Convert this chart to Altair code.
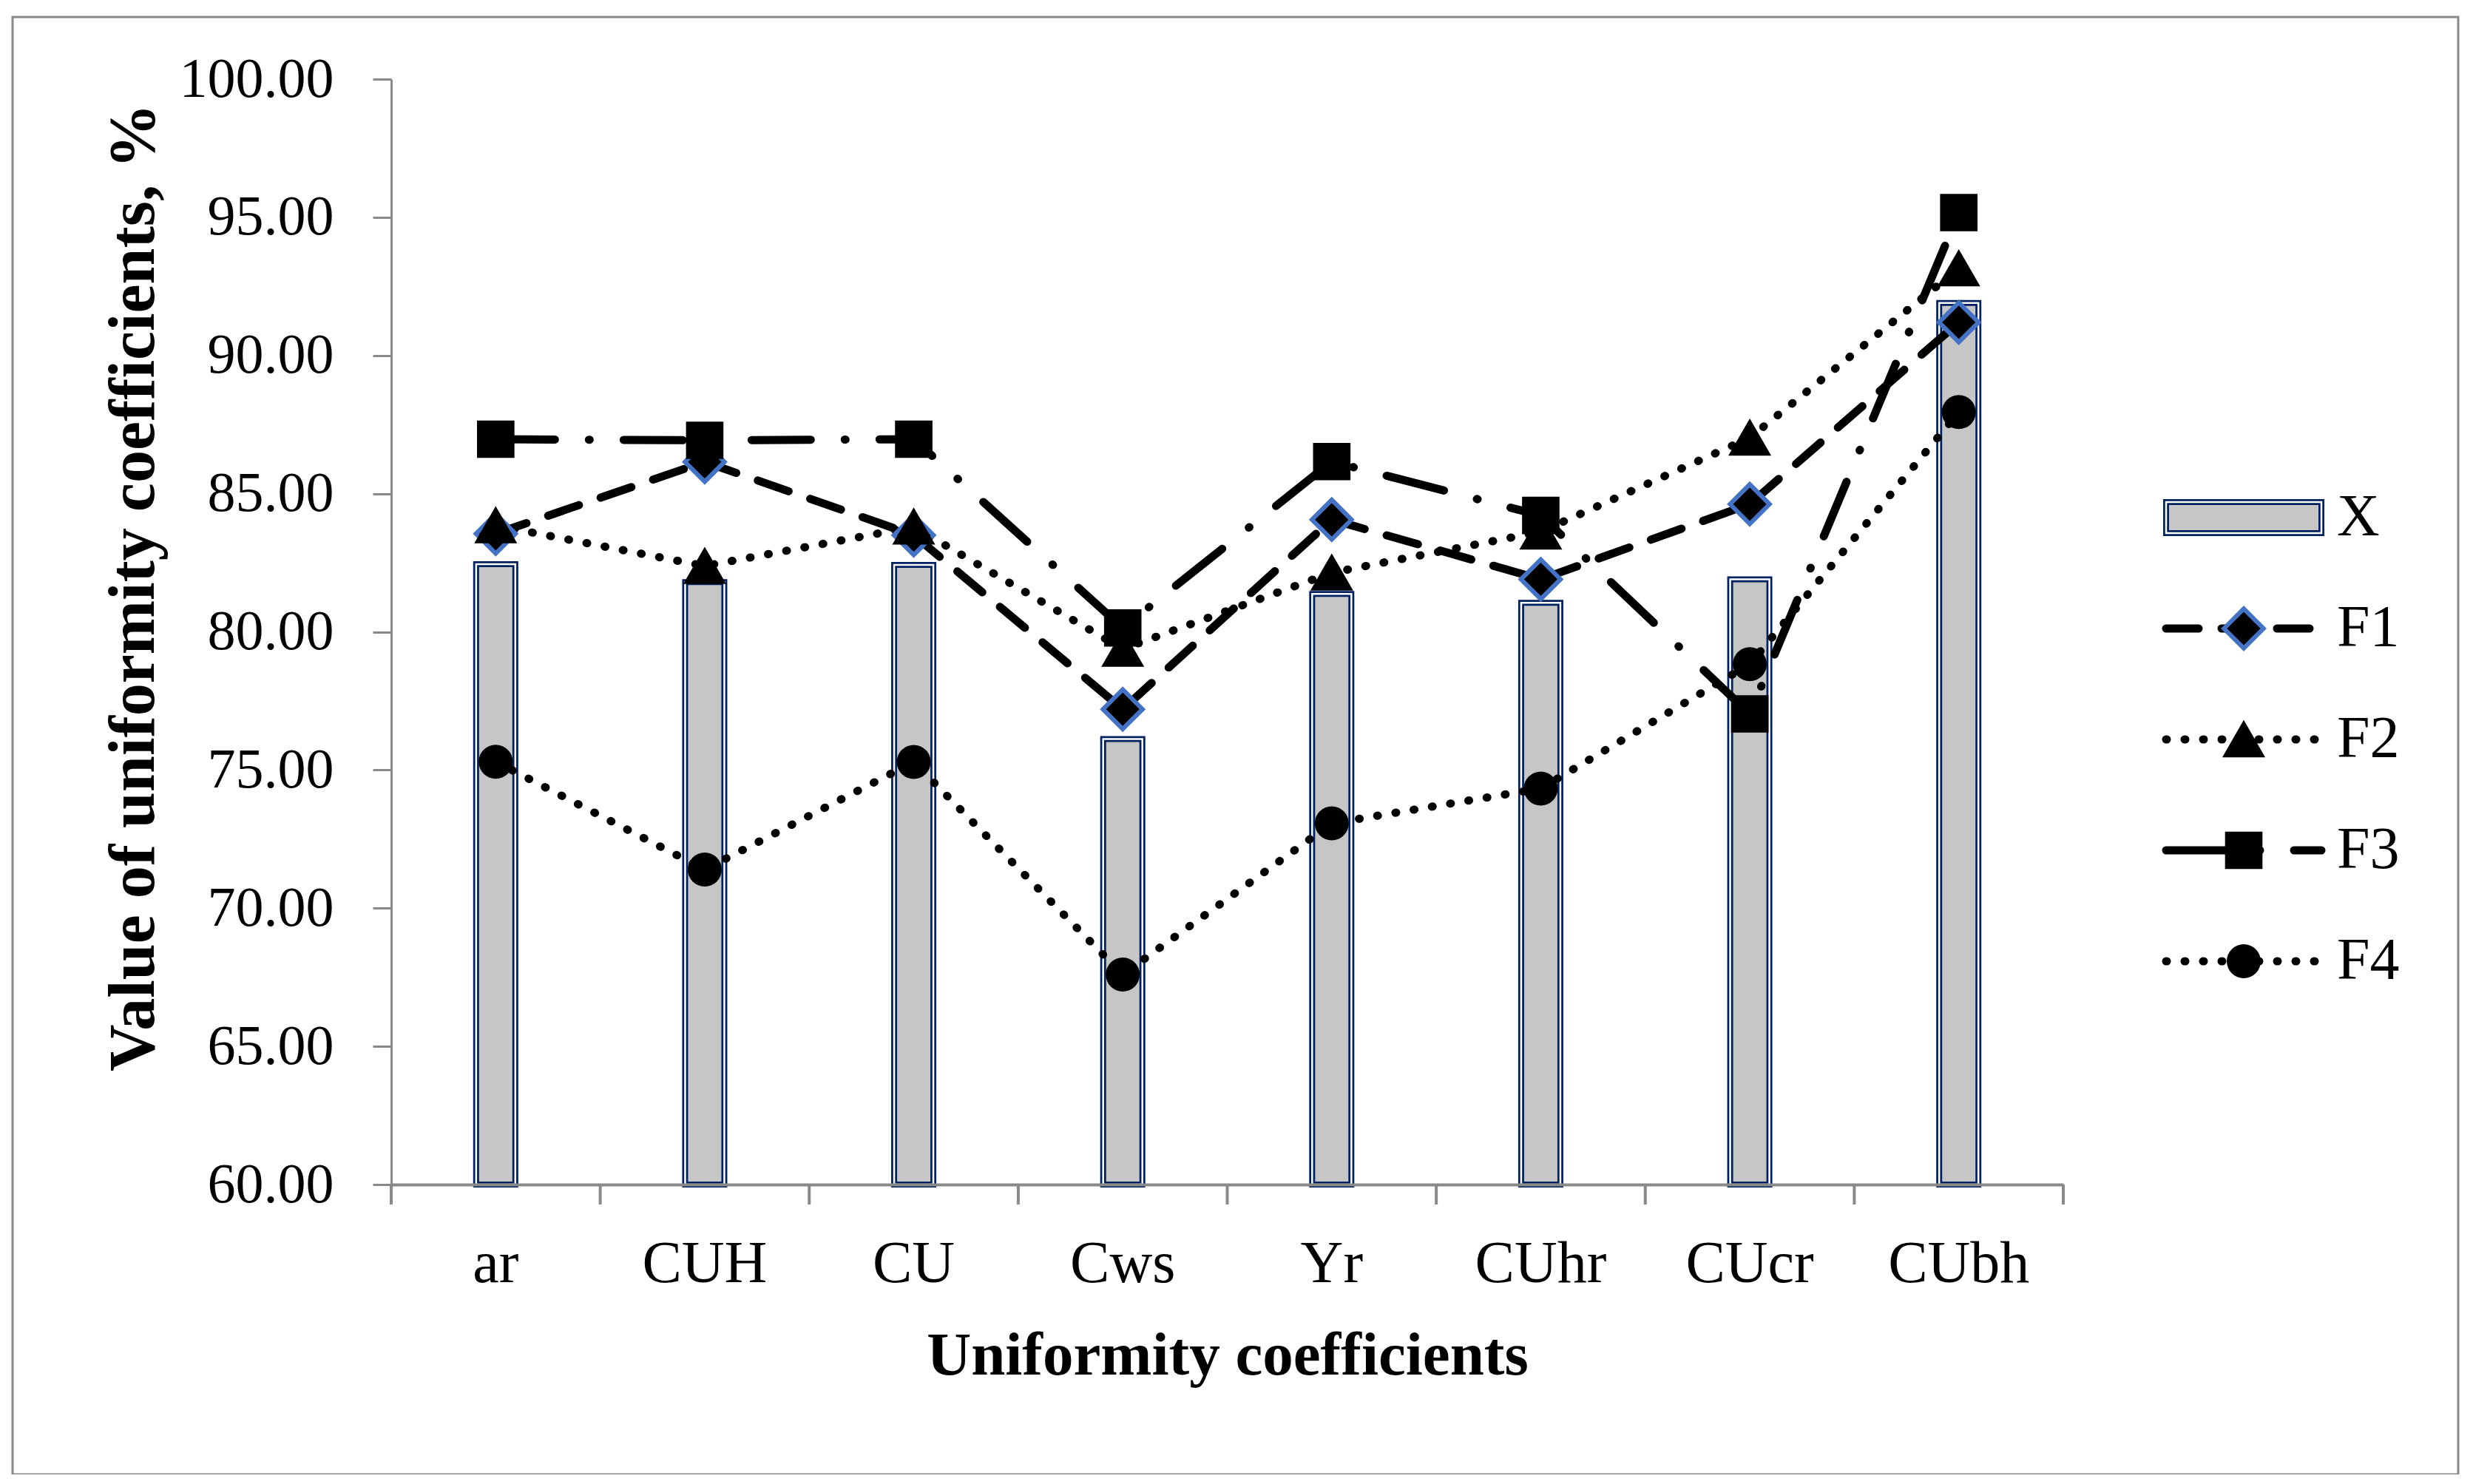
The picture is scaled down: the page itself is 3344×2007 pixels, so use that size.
import altair as alt
import pandas as pd

# ---- data ----
categories = ["ar", "CUH", "CU", "Cws", "Υr", "CUhr", "CUcr", "CUbh"]
x_values = [82.45, 81.80, 82.42, 76.12, 81.37, 81.05, 81.90, 91.90]
f1_values = [83.55, 86.15, 83.50, 77.20, 84.06, 81.90, 84.62, 91.20]
f2_values = [83.85, 82.38, 83.80, 79.38, 82.14, 83.62, 87.02, 93.15]
f3_values = [86.97, 86.93, 86.97, 80.14, 86.16, 84.21, 77.03, 95.17]
f4_values = [75.30, 71.40, 75.29, 67.60, 73.07, 74.33, 78.83, 87.95]
series_names = ["F1", "F2", "F3", "F4"]
legend_items = ["X", "F1", "F2", "F3", "F4"]
y_ticks = [60, 65, 70, 75, 80, 85, 90, 95, 100]
tick_bounds = [0, 1, 2, 3, 4, 5, 6, 7, 8]

# ---- tables ----
bars_df = pd.DataFrame({"cat": categories, "value": x_values, "base": [60] * len(categories)})
series_values = [f1_values, f2_values, f3_values, f4_values]
lines_df = pd.DataFrame(
    [{"cat": c, "series": s, "value": v, "order": i}
     for s, vals in zip(series_names, series_values)
     for i, (c, v) in enumerate(zip(categories, vals))]
)
ticks_df = pd.DataFrame({"b": tick_bounds})
leg_bar_df = pd.DataFrame({"item": ["X"], "x0": [0.0], "x1": [1.0]})
leg_line_df = pd.DataFrame(
    [{"item": s, "series": s, "pos": p} for s in series_names for p in (0.0, 1.0)]
)
leg_pt_df = pd.DataFrame({"item": series_names, "series": series_names, "pos": [0.5] * 4})
leg_txt_df = pd.DataFrame({"item": legend_items, "pos": [1.1] * 5})
one_df = pd.DataFrame({"a": [0]})

# ---- style ----
W, H = 2261, 1495
GRAY = "#898989"
NAVY = "#002060"
FONT = "Liberation Serif"
dash_range = [[44, 31], [1, 24], [80, 46, 1, 46], [1, 24]]
shape_range = ["diamond", "triangle-up", "square", "circle"]
size_range = [2860, 2116, 2300, 2300]
stroke_range = ["#4472c4", "black", "black", "black"]
sw_range = [6, 0, 0, 0]

xscale = alt.Scale(domain=categories, paddingInner=0, paddingOuter=0)
yscale = alt.Scale(domain=[60, 100], nice=False, zero=False)

x_axis = alt.Axis(
    title="Uniformity coefficients", ticks=False, tickSize=0, labelAngle=0,
    labelPadding=131, labelBaseline="alphabetic", labelFont=FONT, labelFontSize=80,
    labelColor="black", labelLimit=0, domainColor=GRAY, domainWidth=4, grid=False, zindex=1,
    titleFont=FONT, titleFontSize=83, titleFontWeight="bold", titleColor="black",
    titleX=W / 2, titleY=256, titleBaseline="alphabetic", titleAlign="center",
)
y_axis = alt.Axis(
    title="Value of uniformity coefficients, %", values=y_ticks, format=".2f",
    tickSize=25, tickWidth=3, tickColor=GRAY, labelPadding=53, labelFont=FONT,
    labelFontSize=76, labelColor="black", labelLimit=0, domainColor=GRAY, domainWidth=3,
    grid=False, titleFont=FONT, titleFontSize=88, titleFontWeight="bold", titleColor="black",
    titleX=-348, titleY=687, titleAngle=-90, titleBaseline="middle", titleAlign="center",
    titleLimit=0,
)

bar_base = alt.Chart(bars_df).encode(
    x=alt.X("cat:N", scale=xscale, sort=categories, axis=x_axis),
    y=alt.Y("value:Q", scale=yscale, axis=y_axis),
    y2="base:Q",
)
bar1 = bar_base.mark_bar(size=53, fill="#c6c6c6", stroke=NAVY, strokeWidth=8)
bar2 = bar_base.mark_bar(size=53, fill="white", fillOpacity=0, stroke="white", strokeWidth=2.5)

dash_scale = alt.Scale(domain=series_names, range=dash_range)
shape_scale = alt.Scale(domain=series_names, range=shape_range)
size_scale = alt.Scale(domain=series_names, range=size_range)
stroke_scale = alt.Scale(domain=series_names, range=stroke_range)
sw_scale = alt.Scale(domain=series_names, range=sw_range)

lines = alt.Chart(lines_df).mark_line(
    color="black", strokeWidth=11, strokeCap="round", strokeJoin="round"
).encode(
    x=alt.X("cat:N", scale=xscale, sort=categories),
    y=alt.Y("value:Q", scale=yscale),
    strokeDash=alt.StrokeDash("series:N", scale=dash_scale, legend=None),
    detail="series:N",
    order="order:Q",
)
points = alt.Chart(lines_df).mark_point(filled=True, fill="black", opacity=1).encode(
    x=alt.X("cat:N", scale=xscale, sort=categories),
    y=alt.Y("value:Q", scale=yscale),
    shape=alt.Shape("series:N", scale=shape_scale, legend=None),
    size=alt.Size("series:N", scale=size_scale, legend=None),
    stroke=alt.Stroke("series:N", scale=stroke_scale, legend=None),
    strokeWidth=alt.StrokeWidth("series:N", scale=sw_scale, legend=None),
)
main = alt.layer(bar1, bar2, lines, points)

ticks = alt.Chart(ticks_df).mark_rule(color=GRAY, strokeWidth=4).encode(
    x=alt.X("b:Q", scale=alt.Scale(domain=[0, 8], nice=False, zero=False), axis=None),
    y=alt.value(H),
    y2=alt.value(H + 27),
)

# ---- legend (drawn with its own scales) ----
lx = alt.Scale(domain=[0, 1], range=[2400, 2610], nice=False, zero=False)
ly = alt.Scale(type="point", domain=legend_items, range=[593, 1193], padding=0)
leg_bar_base = alt.Chart(leg_bar_df).encode(
    x=alt.X("x0:Q", scale=lx, axis=None), x2="x1:Q",
    y=alt.Y("item:N", scale=ly, axis=None),
)
leg_bar1 = leg_bar_base.mark_bar(size=42, fill="#c6c6c6", stroke=NAVY, strokeWidth=8)
leg_bar2 = leg_bar_base.mark_bar(size=42, fill="white", fillOpacity=0, stroke="white", strokeWidth=2.5)
leg_lines = alt.Chart(leg_line_df).mark_line(
    color="black", strokeWidth=11, strokeCap="round"
).encode(
    x=alt.X("pos:Q", scale=lx, axis=None),
    y=alt.Y("item:N", scale=ly, axis=None),
    strokeDash=alt.StrokeDash("series:N", scale=dash_scale, legend=None),
    detail="series:N",
)
leg_pts = alt.Chart(leg_pt_df).mark_point(filled=True, fill="black", opacity=1).encode(
    x=alt.X("pos:Q", scale=lx, axis=None),
    y=alt.Y("item:N", scale=ly, axis=None),
    shape=alt.Shape("series:N", scale=shape_scale, legend=None),
    size=alt.Size("series:N", scale=size_scale, legend=None),
    stroke=alt.Stroke("series:N", scale=stroke_scale, legend=None),
    strokeWidth=alt.StrokeWidth("series:N", scale=sw_scale, legend=None),
)
leg_txt = alt.Chart(leg_txt_df).mark_text(
    align="left", baseline="middle", font=FONT, fontSize=80, color="black"
).encode(
    x=alt.X("pos:Q", scale=lx, axis=None),
    y=alt.Y("item:N", scale=ly, axis=None),
    text="item:N",
)
legend = alt.layer(leg_bar1, leg_bar2, leg_lines, leg_pts, leg_txt)

border = alt.Chart(one_df).mark_rect(fill="white", fillOpacity=0, stroke=GRAY, strokeWidth=3).encode(
    x=alt.value(-512), x2=alt.value(2795), y=alt.value(-84), y2=alt.value(1887)
)

chart = alt.layer(border, main, ticks, legend).resolve_scale(
    x="independent", y="independent"
).properties(
    width=W, height=H,
    padding={"left": 521, "top": 99, "right": 540, "bottom": 392},
    autosize=alt.AutoSizeParams(type="none"),
    background="white",
).configure_view(strokeWidth=0)

chart.save("out.html", embed_options={"renderer": "svg", "actions": False})
